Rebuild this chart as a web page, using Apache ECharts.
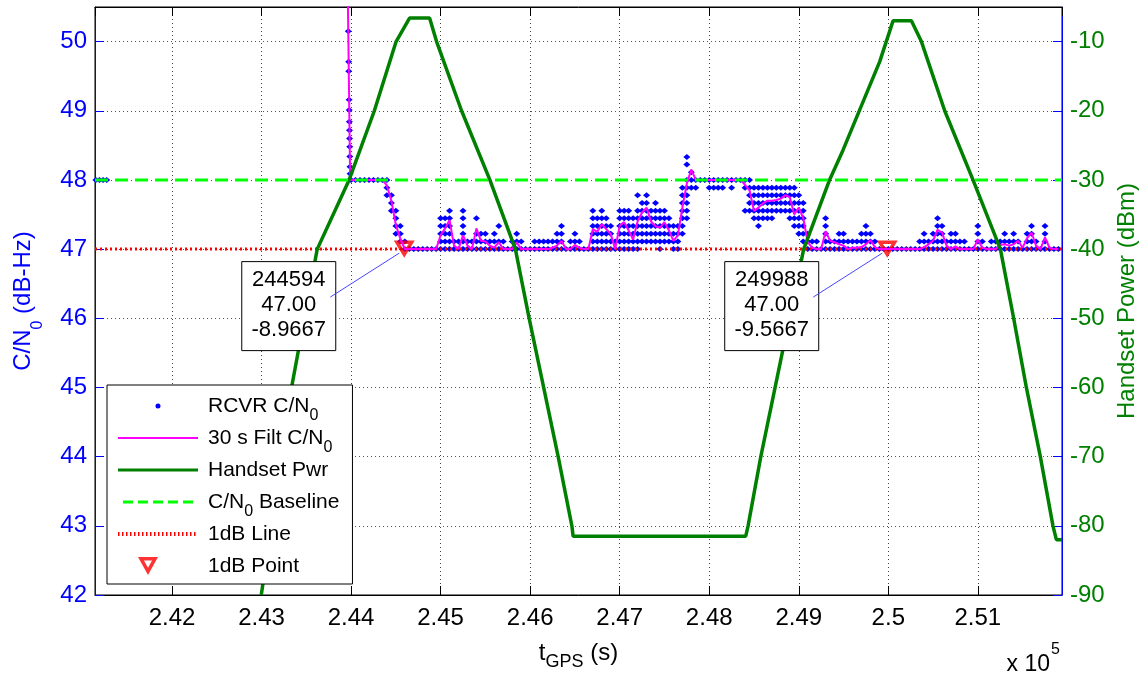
<!DOCTYPE html>
<html>
<head>
<meta charset="utf-8">
<script src="https://cdn.jsdelivr.net/npm/echarts@6/dist/echarts.min.js"></script>
<style>
html,body{margin:0;padding:0;background:#fff;}
#chart{width:1146px;height:677px;}
</style>
</head>
<body>
<div id="chart"></div>
<script>
// ---------------- data ----------------
const timeRange = [241140, 251940];          // GPS time span of the plot (s)
const baselineCn0 = 48;                       // C/N0 baseline (dB-Hz)
const oneDbCn0 = 47;                          // 1 dB line (dB-Hz)

// receiver C/N0 samples before the gap and during the start-up spike
const earlyTimes = [241150, 241190, 241230, 241270];
const earlyCn0   = [48, 48, 48, 48];
const spikeTimes = [243969, 243973, 243974, 243978, 243979, 243981, 243982, 243983, 243985, 243986, 243988, 243989];
const spikeCn0   = [50.15, 49.71, 49.57, 49.16, 49.01, 48.84, 48.72, 48.6, 48.48, 48.34, 48.19, 48.09];

// regular sampling from 244000 s, every 50 s
const sampleStart = 244000;
const sampleStep = 50;
// quantized receiver C/N0 levels seen at each sample, as level index (step 1/9 dB-Hz above 47 dB-Hz)
const levelBase = 47;
const levelStep = 1 / 9;
const rcvrLevels = [
  [9],[9],[9],[9],[9],[9],[9],[9],[7,8,9],[5,6,7],
  [2,3,4,5],[1,2,3],[0,1],[0],[0],[0],[0],[0],[0],[0],
  [0,1,2,3,4],[0,1,2,3,4],[0,1,2,3,4,5],[0,1],[0,1],[0,1,2,3,4,5],[0,1],[0,1],[0,1,2,4],[0,1,2],
  [0,1,2],[0,1],[0,1,2],[0,1,3],[0,1],[0],[0,1],[0,1,2],[0,1],[0],
  [0],[0,1],[0,1],[0,1],[0,1],[0,1],[0,1,2],[0,1,2,3],[0],[0,1],
  [0,1,2],[0,1],[0],[0],[0,1,2,3,4,5],[0,1,2,3,4],[0,1,2,3,4,5],[0,1,2,3,4],[0,1,2,3],[0,1],
  [0,1,2,3,4,5],[0,1,2,3,4,5],[0,1,2,3,4,5],[0,1,2,3,4],[0,1,2,3,4,5,7],[1,2,3,4,5,6],[1,2,3,4,5,6,7],[1,2,3,4,5],[1,2,3,4,5,6],[0,1,2,3,4,5],
  [1,2,3,4,5],[1,2,3,4],[0,1,2,3],[0,1,2,3],[2,3,4,5,6,7,8],[4,5,6,7,8,9,11,12],[8,9,10],[8,9],[9],[9],
  [8,9],[8,9],[8,9],[8,9],[9],[8,9],[9],[9],[5,8,9],[5,6,7,8,9],
  [4,5,6,7,8],[3,4,5,6,7,8],[4,5,6,7,8],[4,5,6,7,8],[4,5,6,7,8],[5,6,7,8],[5,6,7,8],[5,6,7,8],[4,5,6,7,8],[3,4,5,6,7,8],
  [2,3,4,5,6,7],[1,2,3,4,5,6],[0,1,2],[0,1],[0,1],[0],[0,1,2,3,4],[0,1],[0,1],[0,1,2],
  [0,1,2],[0,1],[0,1],[0,1],[0,1,2],[0,1,2,3],[0,1,2],[0,1],[0],[0],
  [0],[0],[0],[0],[0],[0],[0],[0,1],[0,1,2],[0,1],
  [0,1,2],[0,1,2,3,4],[0,1,2,3],[0,1],[0,1,2],[0,1,2],[0,1],[0,1],[0],[0],
  [0,1,2,3],[0,1],[0],[0,1],[0,1],[0,1],[0,1,2],[0,1],[0,1,2],[0,1],
  [0],[0,1,2],[0,1,2,3],[0,1],[0],[0,1,2,3],[0],[0],[0]
];
// 30 s filtered C/N0 at the same samples
const filtCn0 = [
  48,48,48,48,48,48,48,48,47.92,47.7,
  47.35,47.15,47.0,47,47,47,47,47,47,47,
  47.2,47.3,47.42,47.05,47.0,47.2,47.05,47.0,47.3,47.12,
  47.11,47.05,47.02,47.1,47.0,47,47.0,47.1,47.0,47,
  47,47,47,47,47,47.02,47.05,47.12,47.0,47.0,
  47.06,47.02,47.0,47.0,47.29,47.25,47.36,47.29,47.22,47.0,
  47.34,47.39,47.27,47.14,47.4,47.53,47.6,47.4,47.33,47.31,
  47.39,47.27,47.12,47.2,47.6,47.95,48.15,48.0,48,48,
  48,48,48,48,48,48,48,48,47.93,47.85,
  47.55,47.6,47.66,47.7,47.7,47.71,47.73,47.78,47.75,47.5,
  47.6,47.45,47.1,47.02,47.0,47,47.26,47.12,47.1,47.07,
  47.05,47.0,47.02,47.02,47.03,47.07,47.13,47.03,47,47,
  47,47,47,47,47,47,47,47.0,47.03,47.07,
  47.12,47.28,47.24,47.05,47.0,47.04,47.0,47.0,47,47,
  47.14,47.02,47,47,47,47.06,47.07,47.05,47.07,47.12,
  47.02,47.16,47.24,47.05,47,47.17,47.02,47,47
];
const filtEarlyTimes = [241140, 241280];
const filtEarlyCn0   = [48, 48];
const filtSpikeTimes = [243964, 243990];
const filtSpikeCn0   = [50.6, 48];

// handset power (dBm)
const pwrTimes  = [242997,243341,243622,243978,244260,244503,244653,244877,244955,245234,245550,245835,245989,246313,246466,246480,248408,248434,248576,249055,249344,249494,249904,250053,250258,250370,250630,250946,251252,251400,251542,251698,251839,251877,251940];
const pwrValues = [-90,-59.6,-40,-30,-20,-10,-6.6,-6.6,-10,-20,-30,-40,-50,-70,-80,-81.5,-81.5,-80,-70,-40,-30,-25.7,-12.9,-7,-7,-10,-20,-30,-40,-50,-60,-70,-80,-82,-82];

// 1 dB points
const oneDbTimes  = [244594, 249988];
const oneDbValues = [47.00, 47.00];
const oneDbPower  = [-8.9667, -9.5667];

// ---------------- build series data ----------------
const rcvrData = [];
earlyTimes.forEach((t, i) => rcvrData.push([t, earlyCn0[i]]));
spikeTimes.forEach((t, i) => rcvrData.push([t, spikeCn0[i]]));
rcvrLevels.forEach((lv, i) => lv.forEach(k => rcvrData.push([sampleStart + i * sampleStep, levelBase + k * levelStep])));

const filtData = [];
filtEarlyTimes.forEach((t, i) => filtData.push([t, filtEarlyCn0[i]]));
filtData.push([241300, '-']);
filtSpikeTimes.forEach((t, i) => filtData.push([t, filtSpikeCn0[i]]));
filtCn0.forEach((v, i) => filtData.push([sampleStart + i * sampleStep, v]));

const pwrData = pwrTimes.map((t, i) => [t, pwrValues[i]]);
const oneDbData = oneDbTimes.map((t, i) => [t, oneDbValues[i]]);

// ---------------- styling helpers ----------------
const FONT = 'Liberation Sans';
const GUIDE = 'M0,9L80,9Z M40,0L40,18Z ';          // zero-area guides: icon box 80x18
const triShape = 'M0,0L20,0L10,18Z M5.95,3.5L10,10.8L14.05,3.5Z';
const triPath = 'path://' + triShape;
const triIcon = 'path://M30,0L30,18Z M70,0L70,18Z ' + triShape.replace(/(\d+(\.\d+)?),/g, (m, a) => (parseFloat(a) + 40 - 10) + ',');
const dotIcon = 'path://' + GUIDE + 'M37.5,9a2.5,2.5 0 1,0 5,0a2.5,2.5 0 1,0 -5,0Z';
const pinkIcon = 'path://' + GUIDE + 'M0,8L80,8L80,10L0,10Z';
const greenIcon = 'path://' + GUIDE + 'M0,7.5L80,7.5L80,10.5L0,10.5Z';
let dashIcon = 'path://' + GUIDE;
for (let x = 5; x < 80; x += 15) dashIcon += ` M${x},7.5L${x + 10},7.5L${x + 10},10.5L${x},10.5Z`;
let dotLineIcon = 'path://' + GUIDE;
for (let x = 0; x <= 78.5; x += 4) dotLineIcon += ` M${x},7L${x + 1.5},7L${x + 1.5},11L${x},11Z`;

function subText(name) {
  const parts = name.split('C/N0');
  let out = '';
  parts.forEach((p, i) => {
    if (p) out += '{a|' + p + '}';
    if (i < parts.length - 1) out += '{a|C/N}{s|0}';
  });
  if (parts.length === 1) out += '{s| }';      // same row height for every entry
  return out;
}

const chart = echarts.init(document.getElementById('chart'), null, {renderer: 'canvas'});

const option = {
  animation: false,
  backgroundColor: '#ffffff',
  grid: {left: 95, right: 84, top: 7, bottom: 82, containLabel: false, outerBoundsMode: 'none',
    show: true, borderColor: '#000', borderWidth: 1, backgroundColor: 'transparent'},
  legend: {
    orient: 'vertical', left: 107, top: 385,
    padding: [3, 13, 0, 11], itemGap: -4, itemWidth: 90, itemHeight: 18,
    backgroundColor: '#fff', borderColor: '#000', borderWidth: 1,
    selectedMode: false,
    itemStyle: {borderWidth: 0},
    textStyle: {
      color: '#000', fontFamily: FONT, fontSize: 21, lineHeight: 24,
      rich: {
        a: {fontFamily: FONT, fontSize: 21, lineHeight: 24, color: '#000'},
        s: {fontFamily: FONT, fontSize: 16, lineHeight: 24, color: '#000', padding: [20, 0, 0, 0]}
      }
    },
    formatter: subText,
    data: [
      {name: 'RCVR C/N0', icon: dotIcon},
      {name: '30 s Filt C/N0', icon: pinkIcon},
      {name: 'Handset Pwr', icon: greenIcon},
      {name: 'C/N0 Baseline', icon: dashIcon},
      {name: '1dB Line', icon: dotLineIcon},
      {name: '1dB Point', icon: triIcon}
    ]
  },
  xAxis: [
    {
      type: 'value', min: timeRange[0], max: timeRange[1], splitNumber: 10, position: 'bottom',
      axisLine: {show: true, lineStyle: {color: '#000', width: 1}},
      axisTick: {show: true, inside: true, length: 9, lineStyle: {color: '#000'}},
      axisLabel: {color: '#000', fontFamily: FONT, fontSize: 24, margin: 11, showMinLabel: false, showMaxLabel: false,
        formatter: v => String(+(v / 1e5).toFixed(4))},
      splitLine: {show: true, showMinLine: false, showMaxLine: false, lineStyle: {color: '#444', type: [1, 3], width: 1}},
      name: '{a|t}{s|GPS}{a| (s)}', nameLocation: 'middle', nameGap: 44,
      nameTextStyle: {color: '#000', fontFamily: FONT, fontSize: 24, lineHeight: 26,
        rich: {a: {fontFamily: FONT, fontSize: 24, lineHeight: 26, color: '#000'},
               s: {fontFamily: FONT, fontSize: 18, lineHeight: 26, color: '#000', padding: [18, 0, 0, 0]}}}
    },
    {
      type: 'value', min: timeRange[0], max: timeRange[1], splitNumber: 10, position: 'top',
      axisLine: {show: true, lineStyle: {color: '#000', width: 1}},
      axisTick: {show: true, inside: true, length: 9, lineStyle: {color: '#000'}},
      axisLabel: {show: false}, splitLine: {show: false}
    }
  ],
  yAxis: [
    {
      type: 'value', min: 42, max: 50.5, interval: 1, position: 'left',
      axisLine: {show: true, lineStyle: {color: '#0000ff', width: 1}},
      axisTick: {show: true, inside: true, length: 9, lineStyle: {color: '#0000ff'}},
      axisLabel: {color: '#0000ff', fontFamily: FONT, fontSize: 24, margin: 8, showMaxLabel: false},
      splitLine: {show: true, showMinLine: false, showMaxLine: false, lineStyle: {color: 'rgba(0,0,255,0.75)', type: [1, 3], width: 1}},
      name: '{a|C/N}{s|0}{a| (dB-Hz)}', nameLocation: 'middle', nameRotate: 90, nameGap: 59,
      nameTextStyle: {color: '#0000ff', fontFamily: FONT, fontSize: 24, lineHeight: 26,
        rich: {a: {fontFamily: FONT, fontSize: 24, lineHeight: 26, color: '#0000ff'},
               s: {fontFamily: FONT, fontSize: 16, lineHeight: 26, color: '#0000ff', padding: [30, 0, 0, 0]}}}
    },
    {
      type: 'value', min: -90, max: -5, interval: 10, position: 'right',
      axisLine: {show: true, lineStyle: {color: '#0000ff', width: 1}},
      axisTick: {show: true, inside: true, length: 9, lineStyle: {color: '#0000ff'}},
      axisLabel: {color: '#008000', fontFamily: FONT, fontSize: 24, margin: 8, showMaxLabel: false},
      splitLine: {show: false},
      name: 'Handset Power (dBm)', nameLocation: 'middle', nameRotate: 90, nameGap: 53,
      nameTextStyle: {color: '#008000', fontFamily: FONT, fontSize: 24}
    }
  ],
  series: [
    {
      name: '1dB Line', type: 'line', data: [[timeRange[0], oneDbCn0], [timeRange[1], oneDbCn0]],
      symbol: 'none', silent: true,
      lineStyle: {color: '#ff0000', width: 3, type: [2, 3]}, itemStyle: {color: '#ff0000'}
    },
    {
      name: 'RCVR C/N0', type: 'scatter', data: rcvrData, symbol: 'diamond', symbolSize: [7, 6], silent: true,
      itemStyle: {color: '#0000ff', opacity: 1}
    },
    {
      name: '30 s Filt C/N0', type: 'line', data: filtData, symbol: 'none', silent: true, connectNulls: false,
      lineStyle: {color: '#ff00ff', width: 2}, itemStyle: {color: '#ff00ff'}
    },
    {
      name: 'Handset Pwr', type: 'line', yAxisIndex: 1, data: pwrData, symbol: 'none', silent: true,
      lineStyle: {color: '#008000', width: 3.5}, itemStyle: {color: '#008000'}
    },
    {
      name: 'C/N0 Baseline', type: 'line', data: [[timeRange[0], baselineCn0], [timeRange[1], baselineCn0]],
      symbol: 'none', silent: true,
      lineStyle: {color: '#00ff00', width: 3, type: [13, 7]}, itemStyle: {color: '#00ff00'}
    },
    {
      name: '1dB Point', type: 'scatter', data: oneDbData, symbol: triPath, symbolSize: [21, 19], symbolKeepAspect: true,
      silent: true, itemStyle: {color: '#ff0000'}
    }
  ]
};
chart.setOption(option);

// data tips for the 1 dB points, placed relative to the points' pixel positions
const graphics = [];
oneDbTimes.forEach((t, i) => {
  const p = chart.convertToPixel({xAxisIndex: 0, yAxisIndex: 0}, [t, oneDbValues[i]]);
  const bw = 94, bh = 89;
  const bx = p[0] - 162.5, by = p[1] + 12.5;
  graphics.push({type: 'rect', z: 100, silent: true, shape: {x: bx, y: by, width: bw, height: bh},
    style: {fill: '#fff', stroke: '#000', lineWidth: 1}});
  graphics.push({type: 'text', z: 101, silent: true,
    style: {x: bx + bw / 2, y: by + 6, text: [String(t), oneDbValues[i].toFixed(2), oneDbPower[i].toFixed(4)].join('\n'),
      align: 'center', verticalAlign: 'top', fontFamily: FONT, fontSize: 22, lineHeight: 25, fill: '#000'}});
  graphics.push({type: 'line', z: 102, silent: true,
    shape: {x1: p[0] - 74, y1: p[1] + 48, x2: p[0] - 5, y2: p[1] + 4},
    style: {stroke: '#4646ff', lineWidth: 1}});
});
// axis exponent label "x 10^5"
graphics.push({type: 'text', z: 100, silent: true,
  style: {x: 1050, y: 665, text: 'x 10', align: 'right', verticalAlign: 'middle', fontFamily: FONT, fontSize: 23, fill: '#000'}});
graphics.push({type: 'text', z: 100, silent: true,
  style: {x: 1051, y: 650, text: '5', align: 'left', verticalAlign: 'middle', fontFamily: FONT, fontSize: 16, fill: '#000'}});
chart.setOption({graphic: graphics});
</script>
</body>
</html>
